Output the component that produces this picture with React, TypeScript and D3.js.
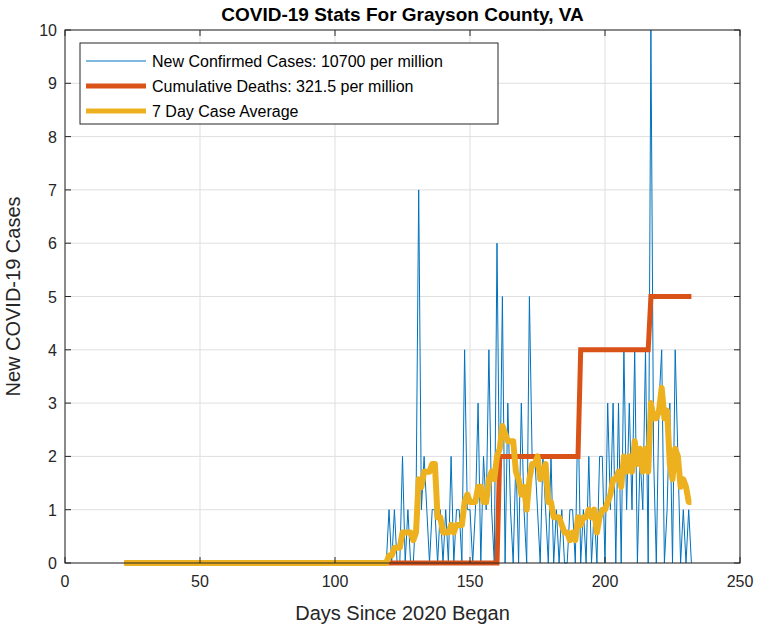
import React from "react";
import * as d3 from "d3";

const startDay = 118;
const dailyCases = [0,0,1,0,1,0,0,2,0,1,0,0,1,7,1,2,1,0,1,1,0,1,0,1,0,2,0,1,1,0,4,1,1,0,1,3,0,2,1,4,1,0,6,1,5,0,3,1,0,2,0,3,1,0,5,2,2,1,0,2,1,0,2,0,1,0,1,0,0,1,1,0,3,0,1,0,2,0,1,0,2,2,0,3,1,3,0,3,0,4,1,3,1,4,0,2,1,4,0,10,2,0,3,4,0,1,3,0,4,2,0,1,0,1,0];
const avgStartDay = 22;
const deathSteps = [[22,0],[160,0],[161,2],[190,2],[191,4],[216,4],[217,5],[232,5]];
const xTicks = [0,50,100,150,200,250];
const yTicks = [0,1,2,3,4,5,6,7,8,9,10];
const legendLabels = ["New Confirmed Cases: 10700 per million","Cumulative Deaths: 321.5 per million","7 Day Case Average"];

export default function App() {
  const L = 65, R = 740, T = 30, B = 563;
  const x = d3.scaleLinear().domain([0, 250]).range([L, R]);
  const y = d3.scaleLinear().domain([0, 10]).range([B, T]);
  const cases: [number, number][] = dailyCases.map((v, i) => [startDay + i, v]);
  const full: number[] = [];
  for (let d = avgStartDay; d < startDay; d++) full.push(0);
  full.push(...dailyCases);
  const avg: [number, number][] = full.map((_, i) => {
    const s = full.slice(Math.max(0, i - 6), i + 1);
    return [avgStartDay + i, d3.mean(s) as number];
  });
  const line = d3.line<[number, number]>().x(d => x(d[0])).y(d => y(d[1]));
  const font = "Arial, 'Liberation Sans', sans-serif";
  const colors = ["#0072BD", "#D95319", "#EDB120"];
  const widths = [1, 5, 5];
  return (
    <svg width={761} height={630} style={{ position: "absolute", left: 0, top: 0, background: "#fff" }} fontFamily={font}>
      <rect x={L} y={T} width={R - L} height={B - T} fill="#fff" />
      {xTicks.map(t => <line key={"gx" + t} x1={x(t)} x2={x(t)} y1={T} y2={B} stroke="#dfdfdf" />)}
      {yTicks.map(t => <line key={"gy" + t} x1={L} x2={R} y1={y(t)} y2={y(t)} stroke="#dfdfdf" />)}
      <g clipPath="url(#c)">
        <path d={line(cases) || ""} fill="none" stroke={colors[0]} strokeWidth={1} />
        <path d={line(deathSteps as [number, number][]) || ""} fill="none" stroke={colors[1]} strokeWidth={5} />
        <path d={line(avg) || ""} fill="none" stroke={colors[2]} strokeWidth={6} strokeLinejoin="round" />
      </g>
      <defs><clipPath id="c"><rect x={L} y={T - 3} width={R - L} height={B - T + 6} /></clipPath></defs>
      <rect x={L} y={T} width={R - L} height={B - T} fill="none" stroke="#262626" strokeWidth={1} />
      {xTicks.map(t => (
        <g key={"tx" + t}>
          <line x1={x(t)} x2={x(t)} y1={B} y2={B - 6} stroke="#262626" />
          <line x1={x(t)} x2={x(t)} y1={T} y2={T + 6} stroke="#262626" />
          <text x={x(t)} y={B + 24} textAnchor="middle" fontSize={16} fill="#262626">{t}</text>
        </g>
      ))}
      {yTicks.map(t => (
        <g key={"ty" + t}>
          <line x1={L} x2={L + 6} y1={y(t)} y2={y(t)} stroke="#262626" />
          <line x1={R} x2={R - 6} y1={y(t)} y2={y(t)} stroke="#262626" />
          <text x={L - 8} y={y(t) + 6} textAnchor="end" fontSize={16} fill="#262626">{t}</text>
        </g>
      ))}
      <text x={(L + R) / 2} y={21} textAnchor="middle" fontSize={19} fontWeight="bold" fill="#000">COVID-19 Stats For Grayson County, VA</text>
      <text x={(L + R) / 2} y={620} textAnchor="middle" fontSize={20} fill="#262626">Days Since 2020 Began</text>
      <text transform={`translate(20,${(T + B) / 2}) rotate(-90)`} textAnchor="middle" fontSize={20} fill="#262626">New COVID-19 Cases</text>
      <rect x={80} y={43} width={418} height={81} fill="#fff" stroke="#262626" />
      {legendLabels.map((lab, i) => (
        <g key={lab}>
          <line x1={86} x2={146} y1={61 + i * 25} y2={61 + i * 25} stroke={colors[i]} strokeWidth={widths[i]} />
          <text x={152} y={67 + i * 25} fontSize={16} fill="#000">{lab}</text>
        </g>
      ))}
    </svg>
  );
}
